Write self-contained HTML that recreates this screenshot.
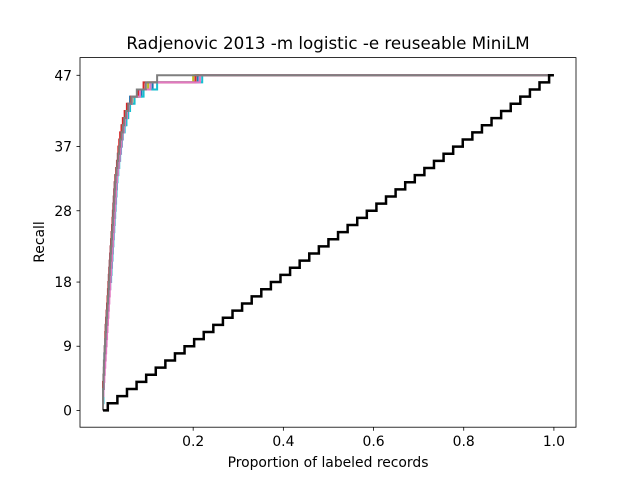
<!DOCTYPE html>
<html><head><meta charset="utf-8"><style>
body{margin:0;background:#fff;font-family:"Liberation Sans","DejaVu Sans",sans-serif}
svg text{font-family:"DejaVu Sans","Liberation Sans",sans-serif;font-size:13.9px;fill:#000}
</style></head><body>
<svg id="chart" width="640" height="480" xmlns="http://www.w3.org/2000/svg">
<rect width="640" height="480" fill="#fff"/>
<text x="328" y="49" text-anchor="middle" style="font-size:16.7px">Radjenovic 2013 -m logistic -e reuseable MiniLM</text>
<g id="plot"></g>
<rect x="80" y="57.6" width="496" height="369.6" fill="none" stroke="#000" stroke-width="0.8"/>
<g id="axes"></g>
<text x="328" y="467" text-anchor="middle">Proportion of labeled records</text>
<text x="0" y="0" transform="translate(44,242) rotate(-90)" text-anchor="middle">Recall</text>
</svg>
<script>
const xTicks=[0.2,0.4,0.6,0.8,1.0];
const yTicks=[0,9,18,28,37,47];
const totalRelevant=47;
const s1=[0,0,0,0.001,0.002,0.002,0.003,0.003,0.004,0.005,0.006,0.006,0.007,0.008,0.009,0.010,0.011,0.012,0.013,0.014,0.015,0.016,0.017,0.018,0.019,0.020,0.021,0.022,0.023,0.024,0.025,0.026,0.028,0.030,0.031,0.033,0.035,0.037,0.040,0.042,0.045,0.050,0.055,0.060,0.085,0.11,0.21];
const s2=[0,0,0.001,0.001,0.002,0.003,0.003,0.004,0.005,0.006,0.007,0.008,0.009,0.010,0.012,0.013,0.014,0.015,0.016,0.017,0.018,0.019,0.020,0.021,0.022,0.023,0.024,0.025,0.026,0.027,0.028,0.029,0.030,0.032,0.034,0.036,0.038,0.040,0.043,0.046,0.050,0.054,0.058,0.065,0.080,0.10,0.20];
const s3=[0,0.001,0.001,0.002,0.002,0.003,0.004,0.005,0.006,0.007,0.008,0.009,0.010,0.011,0.012,0.013,0.014,0.016,0.018,0.019,0.020,0.021,0.022,0.023,0.024,0.025,0.026,0.027,0.028,0.029,0.030,0.031,0.032,0.034,0.036,0.038,0.040,0.042,0.044,0.048,0.052,0.056,0.060,0.070,0.090,0.12,0.22];
const s4=[0,0,0,0,0.001,0.002,0.003,0.004,0.004,0.005,0.005,0.006,0.007,0.008,0.009,0.010,0.011,0.012,0.013,0.014,0.015,0.016,0.017,0.018,0.019,0.020,0.021,0.022,0.023,0.024,0.025,0.026,0.027,0.029,0.031,0.033,0.034,0.036,0.038,0.041,0.044,0.048,0.053,0.062,0.078,0.09,0.205];
const s5=[0,0,0.001,0.002,0.003,0.004,0.005,0.006,0.007,0.008,0.009,0.010,0.011,0.012,0.013,0.014,0.015,0.016,0.017,0.018,0.019,0.020,0.021,0.022,0.023,0.024,0.025,0.026,0.027,0.028,0.029,0.030,0.031,0.033,0.035,0.037,0.039,0.041,0.043,0.046,0.049,0.053,0.057,0.064,0.082,0.105,0.215];
const s6=[0,0,0,0.001,0.001,0.002,0.002,0.003,0.004,0.005,0.006,0.007,0.008,0.009,0.010,0.011,0.012,0.013,0.014,0.015,0.016,0.017,0.018,0.019,0.020,0.021,0.022,0.023,0.024,0.025,0.026,0.027,0.028,0.030,0.032,0.034,0.036,0.038,0.041,0.044,0.047,0.051,0.056,0.063,0.075,0.095,0.12];
const series=[s1,s2,s3,s4,s5,s6];
const colors=["#1f77b4","#bcbd22","#17becf","#d62728","#e377c2","#7f7f7f"];
const X=v=>103+v*450.9, Y=v=>410.4-v*7.13;
const NS="http://www.w3.org/2000/svg";
const plot=document.getElementById('plot'), axes=document.getElementById('axes');
function stepPath(arr){let d=`M${X(0)},${Y(0)}`;arr.forEach((x,i)=>{d+=`H${X(x)}V${Y(i+1)}`;});d+=`H${X(1)}`;return d;}
series.forEach((s,i)=>{const p=document.createElementNS(NS,'path');
p.setAttribute('d',stepPath(s));p.setAttribute('fill','none');p.setAttribute('stroke',colors[i]);p.setAttribute('stroke-width','2');


plot.appendChild(p);});
const rnd=[];for(let k=1;k<=totalRelevant;k++)rnd.push(k/totalRelevant);
const rp=document.createElementNS(NS,'path');
let d=`M${X(0)},${Y(0)}`;rnd.forEach((x,i)=>{d+=`H${X(x-1/totalRelevant/2)}V${Y(i+1)}`;});d+=`H${X(1)}`;
rp.setAttribute('d',d);rp.setAttribute('fill','none');rp.setAttribute('stroke','#000');rp.setAttribute('stroke-width','2.5');


plot.appendChild(rp);
xTicks.forEach(t=>{const x=X(t);
const l=document.createElementNS(NS,'line');l.setAttribute('x1',x);l.setAttribute('x2',x);l.setAttribute('y1',427.2);l.setAttribute('y2',430.7);l.setAttribute('stroke','#000');l.setAttribute('stroke-width','0.8');


axes.appendChild(l);
const tx=document.createElementNS(NS,'text');tx.setAttribute('x',x);tx.setAttribute('y',446);tx.setAttribute('text-anchor','middle');tx.textContent=t.toFixed(1);


axes.appendChild(tx);});
yTicks.forEach(t=>{const y=Y(t);
const l=document.createElementNS(NS,'line');l.setAttribute('x1',76.5);l.setAttribute('x2',80);l.setAttribute('y1',y);l.setAttribute('y2',y);l.setAttribute('stroke','#000');l.setAttribute('stroke-width','0.8');


axes.appendChild(l);
const tx=document.createElementNS(NS,'text');tx.setAttribute('x',72);tx.setAttribute('y',y+5);tx.setAttribute('text-anchor','end');tx.textContent=t;


axes.appendChild(tx);});
</script>
</body></html>
